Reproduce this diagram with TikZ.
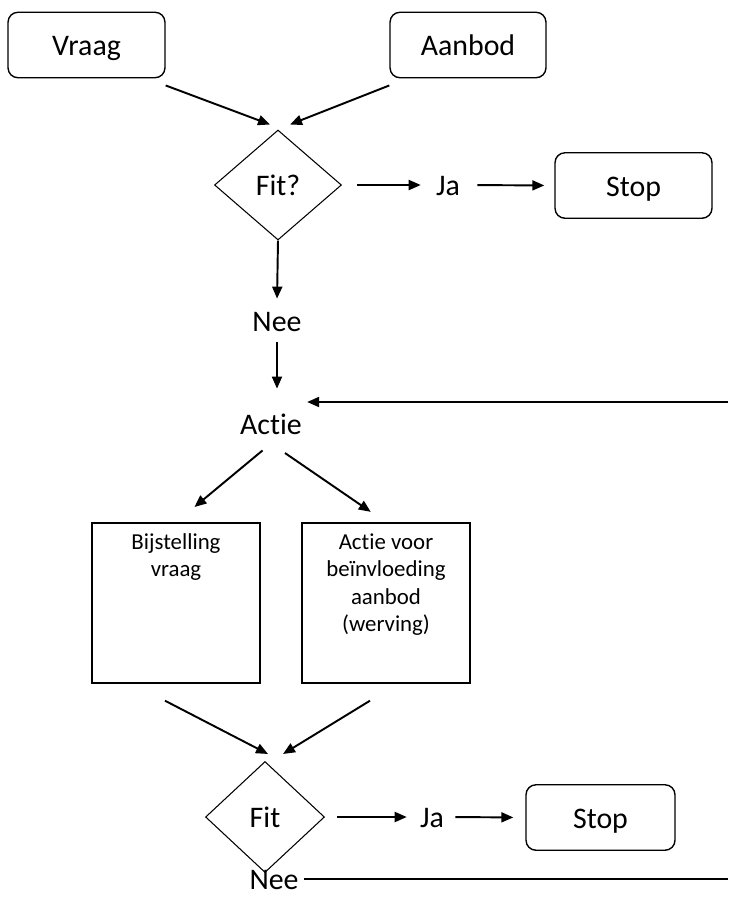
\documentclass[tikz,border=0pt]{standalone}
\usepackage{fontspec}
\setmainfont[Ligatures=NoCommon]{Carlito}
\usetikzlibrary{shapes.geometric,arrows.meta,positioning,calc}
\tikzset{
    % Afgeronde box
    rondbox/.style={
        draw=black,
        line width=0.8pt,
        rounded corners=2mm,
        minimum height=1.31cm,
        text height=14pt,
        text depth=2pt,
        font=\fontsize{17}{20}\selectfont
    },
    % Beslissing
    ruit/.style={
        diamond,
        draw=black,
        line width=0.6pt,
        inner sep=0pt,
        font=\fontsize{17}{20}\selectfont
    },
    % Actie box
    actiebox/.style={
        draw=black,
        line width=0.8pt,
        minimum width=3.36cm,
        minimum height=3.2cm
    },
    % Losse tekst
    tekst/.style={
        inner sep=1mm,
        text height=14pt,
        text depth=2pt,
        font=\fontsize{17}{20}\selectfont
    },
    % Tekst in actie box
    kleintekst/.style={
        align=center,
        inner sep=2.2mm,
        font=\fontsize{13}{15.6}\selectfont
    },
    % Pijl
    pijl/.style={
        -{Triangle[length=2.4mm,width=2mm]},
        line width=1.1pt,
        draw=black
    },
    % Lijn zonder pijl
    lijn/.style={
        line width=0.9pt,
        draw=black
    }
}
\begin{document}
\begin{tikzpicture}[x=0.02cm,y=-0.02cm]
    \useasboundingbox (0,0) rectangle (728,897);

    \node[rondbox,minimum width=3.14cm] (vraag) at (86.5,45) {Vraag};
    \node[rondbox,minimum width=3.12cm] (aanbod) at (468,45) {Aanbod};
    \node[ruit,minimum width=2.54cm,minimum height=2.2cm] (fit1) at (278,185) {Fit?};
    \node[tekst] (ja1) at (448,185) {Ja};
    \node[rondbox,minimum width=3.14cm] (stop1) at (633.5,185.5) {Stop};
    \node[tekst] (nee1) at (277,321) {Nee};
    \node[tekst] (actie) at (271,424) {Actie};
    \coordinate (rechts1) at (728,402);

    \node[actiebox,label={[kleintekst,anchor=north]north:Bijstelling\\vraag}] (bijst) at (176,603) {};
    \node[actiebox,label={[kleintekst,anchor=north]north:Actie voor\\beïnvloeding\\aanbod\\(werving)}] (werving) at (386,603) {};

    \node[ruit,minimum width=2.38cm,minimum height=2.22cm] (fit2) at (265,817) {Fit};
    \node[tekst] (ja2) at (432,817) {Ja};
    \node[rondbox,minimum width=2.98cm] (stop2) at (600.5,817.5) {Stop};
    \node[tekst] (nee2) at (274,879) {Nee};
    \coordinate (rechts2) at (728,879);

    \draw[pijl] ($(vraag.south east)+(0,7)$) -- ($(fit1.north)+(-8,-5)$);
    \draw[pijl] ($(aanbod.south west)+(0,7)$) -- ($(fit1.north)+(12,-5)$);
    \draw[pijl,shorten <=3mm,shorten >=2mm] (fit1.east) -- (ja1.west);
    \draw[pijl,shorten <=2.4mm,shorten >=2mm] (ja1.east) -- (stop1.west);
    \draw[pijl,shorten >=0.6mm] (fit1.south) -- (nee1.north);
    \draw[pijl,shorten <=0.4mm,shorten >=3.2mm] (nee1.south) -- (nee1.south |- actie.north);
    \draw[pijl] (rechts1) -- (rechts1 -| actie.east);

    \draw[pijl,shorten <=2.2mm,shorten >=4.8mm] (actie.south) -- (bijst.north);
    \draw[pijl,shorten <=3.4mm,shorten >=3.7mm] (actie.south) -- (werving.north);

    \draw[pijl] ($(bijst.south)+(-11,17)$) -- ($(fit2.north)+(3,-7)$);
    \draw[pijl] ($(werving.south)+(-16,17)$) -- ($(fit2.north)+(18,-7)$);
    \draw[pijl,shorten <=2.4mm,shorten >=1.6mm] (fit2.east) -- (ja2.west);
    \draw[pijl,shorten <=1.2mm,shorten >=2.4mm] (ja2.east) -- (stop2.west);
    \draw[lijn] (nee2.east) -- (rechts2);
\end{tikzpicture}
\end{document}
